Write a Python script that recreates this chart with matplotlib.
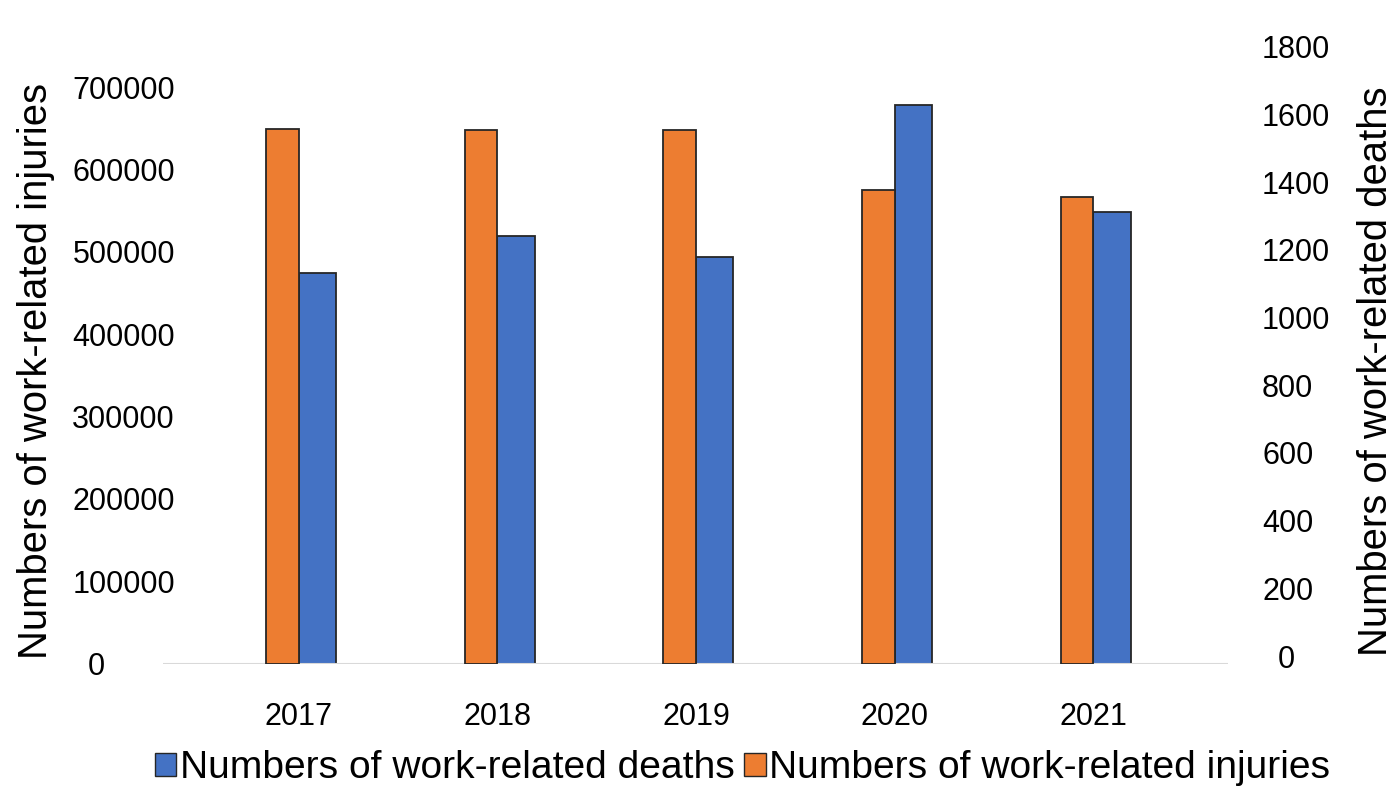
import matplotlib
matplotlib.use("Agg")
import matplotlib.pyplot as plt
import matplotlib.transforms as mtransforms
import numpy as np

plt.rcParams['font.family'] = ['Liberation Sans', 'DejaVu Sans']

# work-related injuries (left axis) and deaths (right axis), 2017-2021
years = ["2017", "2018", "2019", "2020", "2021"]
injuries = [649100, 647400, 647400, 574500, 566500]
deaths = [1153, 1263, 1201, 1651, 1335]

injury_ticks = [0, 100000, 200000, 300000, 400000, 500000, 600000, 700000]
death_ticks = [0, 200, 400, 600, 800, 1000, 1200, 1400, 1600, 1800]

ORANGE = "#ED7D31"
BLUE = "#4472C4"
EDGE = "#262626"

W, H = 1399, 793
fig = plt.figure(figsize=(W / 100, H / 100), dpi=100)
ax = fig.add_axes([163 / W, 129.5 / H, 1065 / W, 617.5 / H])
ax2 = ax.twinx()

x = np.arange(len(years))
w_inj = 32.6 / 198.65
w_dth = 37.5 / 198.65

# injuries just left of each category position, deaths just right of it
ax.bar(x - w_inj, injuries, width=w_inj, align='edge', color=ORANGE,
       edgecolor=EDGE, linewidth=1.3, zorder=3)
ax2.bar(x, deaths, width=w_dth, align='edge', color=BLUE,
        edgecolor=EDGE, linewidth=1.3, zorder=3)

ax.set_xlim(-0.683, 4.678)
ax.set_ylim(0, 750000)
ax2.set_ylim(0, 1825)

ax.set_xticks(x)
ax.set_xticklabels(years)
ax.set_yticks(injury_ticks)
ax.set_yticklabels([str(v) for v in injury_ticks])
ax2.set_yticks(death_ticks)
ax2.set_yticklabels([str(v) for v in death_ticks])

ax.tick_params(axis='x', length=0, pad=28, labelsize=22)
ax.tick_params(axis='y', length=0, pad=-8.6, labelsize=22)
ax2.tick_params(axis='y', length=0, pad=24.5, labelsize=22)


def nudge(label, dx, dy):
    off = mtransforms.ScaledTranslation(dx / 100, dy / 100, fig.dpi_scale_trans)
    label.set_transform(label.get_transform() + off)


# right-hand labels sit a little above their gridline positions
for lab in ax2.get_yticklabels():
    nudge(lab, 0, 7.5)
# the zero labels stand apart from the other numbers
nudge(ax.get_yticklabels()[0], -70, 0)
nudge(ax2.get_yticklabels()[0], 16, 0)

for a in (ax, ax2):
    for s in ("top", "left", "right", "bottom"):
        a.spines[s].set_visible(False)
ax.axhline(0, color="#D9D9D9", linewidth=1.5, zorder=1)
ax.set_zorder(ax2.get_zorder() + 1)
ax.patch.set_visible(False)

fig.text(36 / W, 1 - 371 / H, "Numbers of work-related injuries",
         rotation=90, ha='center', va='center', fontsize=28.8)
fig.text(1376 / W, 1 - 371.5 / H, "Numbers of work-related deaths",
         rotation=90, ha='center', va='center', fontsize=28.8)

handles = [plt.Rectangle((0, 0), 1, 1, facecolor=BLUE, edgecolor=EDGE, linewidth=1),
           plt.Rectangle((0, 0), 1, 1, facecolor=ORANGE, edgecolor=EDGE, linewidth=1)]
fig.legend(handles, ["Numbers of work-related deaths", "Numbers of work-related injuries"],
           loc='center left', bbox_to_anchor=(155 / W, 1 - 768 / H), ncol=2,
           frameon=False, fontsize=28.1, borderpad=0, borderaxespad=0,
           handlelength=0.55, handleheight=0.54, handletextpad=0.08,
           columnspacing=0.25)

fig.savefig("out.png", dpi=100)
